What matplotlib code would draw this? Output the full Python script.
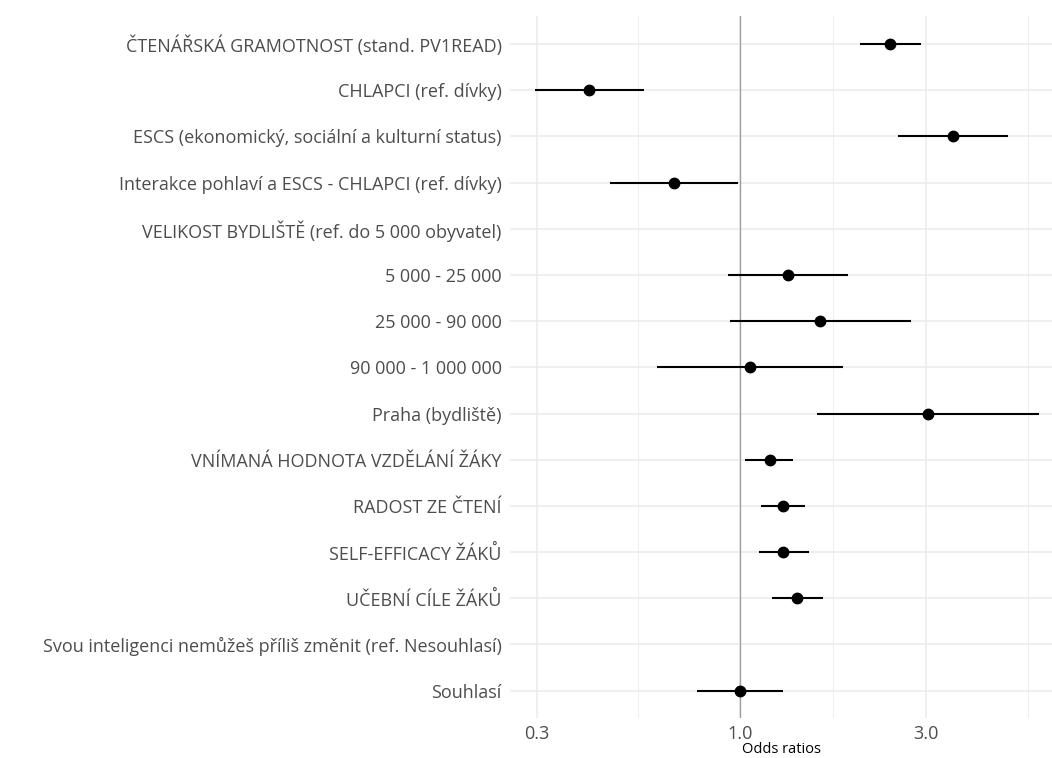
"""Forest plot of odds ratios from the logistic model (PISA reading)."""

import matplotlib
matplotlib.use("Agg")
import matplotlib.pyplot as plt
import numpy as np
from matplotlib.ticker import FixedLocator, NullFormatter


labels = [
    "ČTENÁŘSKÁ GRAMOTNOST (stand. PV1READ)",
    "CHLAPCI (ref. dívky)",
    "ESCS (ekonomický, sociální a kulturní status)",
    "Interakce pohlaví a ESCS - CHLAPCI (ref. dívky)",
    "VELIKOST BYDLIŠTĚ (ref. do 5 000 obyvatel)",
    "5 000 - 25 000",
    "25 000 - 90 000",
    "90 000 - 1 000 000",
    "Praha (bydliště)",
    "VNÍMANÁ HODNOTA VZDĚLÁNÍ ŽÁKY",
    "RADOST ZE ČTENÍ",
    "SELF-EFFICACY ŽÁKŮ",
    "UČEBNÍ CÍLE ŽÁKŮ",
    "Svou inteligenci nemůžeš příliš změnit (ref. Nesouhlasí)",
    "Souhlasí",
]
odds = [2.43, 0.41, 3.52, 0.676, np.nan, 1.325, 1.605, 1.06, 3.04,
        1.19, 1.29, 1.29, 1.40, np.nan, 1.0]
ci_low = [2.03, 0.298, 2.55, 0.463, np.nan, 0.928, 0.943, 0.611, 1.575,
          1.032, 1.133, 1.115, 1.206, np.nan, 0.775]
ci_high = [2.91, 0.565, 4.88, 0.99, np.nan, 1.89, 2.74, 1.84, 5.87,
           1.37, 1.47, 1.50, 1.63, np.nan, 1.29]
x_ticks = [0.3, 1.0, 3.0]
x_minor = [0.548, 1.732, 5.477]

FONT = ["Open Sans", "DejaVu Sans"]
TEXT = "#4d4d4d"
GRID = "#ebebeb"

fig = plt.figure(figsize=(10.52, 7.58), dpi=100)
ax = fig.add_axes([510 / 1052, 1 - 718.4 / 758, 1 - 510 / 1052, (718.4 - 16.3) / 758])

n = len(labels)
y = np.arange(n)[::-1]

ax.set_xscale("log")
ax.set_xlim(10 ** -0.591, 10 ** 0.8008)
ax.set_ylim(-0.6, n - 1 + 0.6)

ax.xaxis.set_major_locator(FixedLocator(x_ticks))
ax.xaxis.set_minor_locator(FixedLocator(x_minor))
ax.xaxis.set_minor_formatter(NullFormatter())
ax.set_xticklabels([f"{v:.1f}" for v in x_ticks])
ax.set_yticks(y)
ax.set_yticklabels(labels)

ax.grid(which="major", axis="both", color=GRID, linewidth=1.1)
ax.grid(which="minor", axis="x", color=GRID, linewidth=0.6)
ax.set_axisbelow(True)
for spine in ax.spines.values():
    spine.set_visible(False)
ax.tick_params(which="both", length=0)
ax.tick_params(axis="y", pad=6, labelsize=13, labelcolor=TEXT)
ax.tick_params(axis="x", pad=5, labelsize=13, labelcolor=TEXT)
for lab in ax.get_xticklabels() + ax.get_yticklabels():
    lab.set_fontfamily(FONT)

ax.axvline(1.0, color="#a0a0a0", linewidth=1.0, zorder=1)

odds = np.array(odds)
ci_low = np.array(ci_low)
ci_high = np.array(ci_high)
ax.hlines(y, ci_low, ci_high, color="black", linewidth=1.5, zorder=2)
ax.plot(odds, y, "o", color="black", markersize=7.5, zorder=3)

ax.set_xlabel("Odds ratios", fontsize=10.5, family=FONT, color="black", labelpad=-1)

fig.savefig("out.png", dpi=100)
